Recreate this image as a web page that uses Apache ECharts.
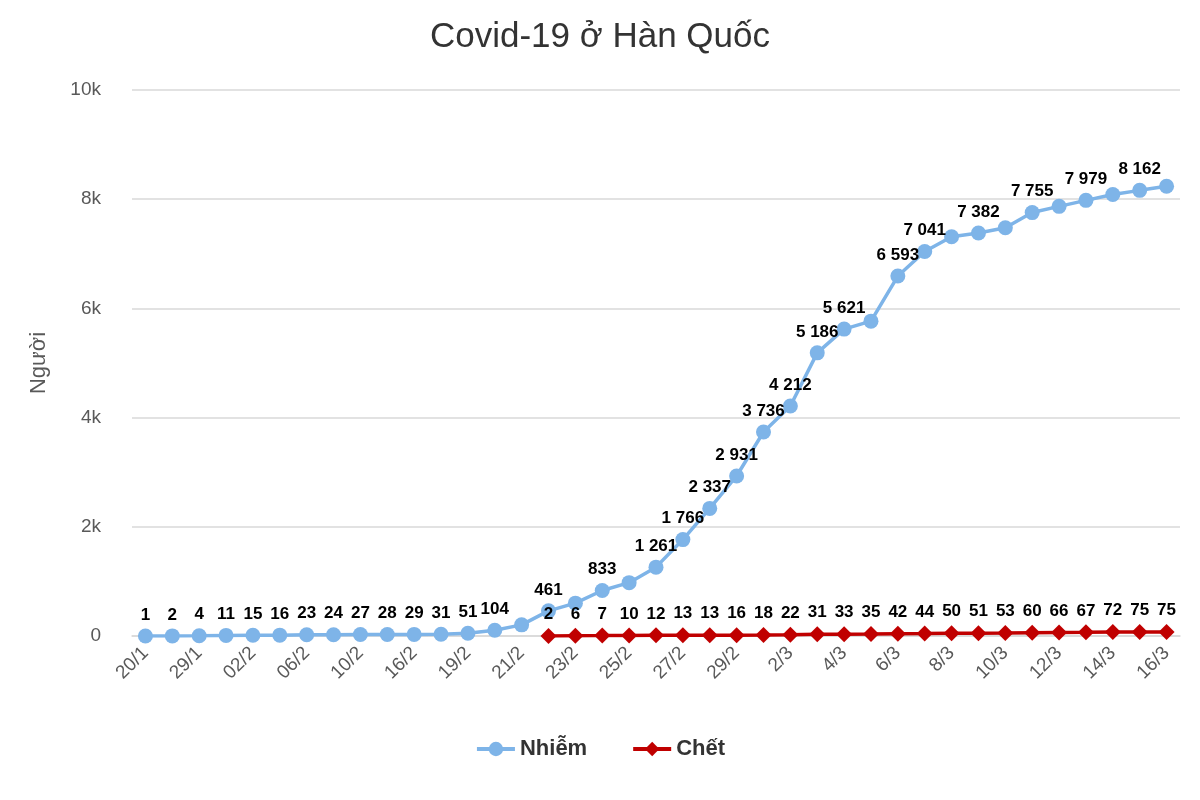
<!DOCTYPE html>
<html>
<head>
<meta charset="utf-8">
<script src="https://cdn.jsdelivr.net/npm/echarts@6/dist/echarts.min.js"></script>
<style>html,body{margin:0;padding:0;background:#fff;}#chart{width:1200px;height:800px;}</style>
</head>
<body>
<div id="chart"></div>
<script>
const categories = ['20/1','24/1','29/1','31/1','02/2','04/2','06/2','08/2','10/2','13/2',
  '16/2','18/2','19/2','20/2','21/2','22/2','23/2','24/2','25/2','26/2',
  '27/2','28/2','29/2','1/3','2/3','3/3','4/3','5/3','6/3','7/3',
  '8/3','9/3','10/3','11/3','12/3','13/3','14/3','15/3','16/3'];
const infected = [1,2,4,11,15,16,23,24,27,28,
  29,31,51,104,204,461,602,833,977,1261,
  1766,2337,2931,3736,4212,5186,5621,5766,6593,7041,
  7313,7382,7478,7755,7869,7979,8086,8162,8236];
const deaths = [null,null,null,null,null,null,null,null,null,null,
  null,null,null,null,null,2,6,7,10,12,
  13,13,16,18,22,31,33,35,42,44,
  50,51,53,60,66,67,72,75,75];
const unlabeledInfected = [14,16,18,27,30,32,34,36,38];
const yTicks = ['0','2k','4k','6k','8k','10k'];

function fmt(v){ return String(v).replace(/\B(?=(\d{3})+(?!\d))/g,' '); }

const FF = 'Liberation Sans, Arial, sans-serif';
const chart = echarts.init(document.getElementById('chart'), null, {renderer:'canvas'});
const labelStyle = {show:true, position:'top', distance:5, color:'#000', fontWeight:'bold', fontSize:17, fontFamily:FF};
chart.setOption({
  animation:false,
  title:{text:'Covid-19 ở Hàn Quốc', left:'center', top:15,
    textStyle:{fontSize:35, fontWeight:'normal', color:'#333333', fontFamily:FF}},
  legend:{bottom:35, left:'center', itemGap:44, itemWidth:38, itemHeight:18,
    lineStyle:{width:4},
    textStyle:{fontSize:22, fontWeight:'bold', color:'#333333', fontFamily:FF},
    data:['Nhiễm','Chết']},
  grid:{left:132, right:20, top:90, bottom:164},
  xAxis:{type:'category', data:categories, boundaryGap:true,
    axisLine:{lineStyle:{color:'#d9d9d9', width:1.5}}, axisTick:{show:false},
    axisLabel:{interval:1, rotate:45, color:'#595959', fontSize:19, margin:14, fontFamily:FF}},
  yAxis:{type:'value', min:0, max:10000, interval:2000,
    name:'Người', nameLocation:'middle', nameGap:82, nameRotate:90,
    nameTextStyle:{fontSize:22, color:'#595959', fontFamily:FF},
    axisLine:{show:false}, axisTick:{show:false},
    splitLine:{lineStyle:{color:'#d9d9d9', width:1.5}},
    axisLabel:{color:'#595959', fontSize:19, margin:31, fontFamily:FF,
      formatter:(v)=> yTicks[Math.round(v/2000)]}},
  series:[
    {name:'Nhiễm', type:'line', data:infected, symbol:'circle', symbolSize:15,
      lineStyle:{width:3.5, color:'#7eb4e8'}, itemStyle:{color:'#7eb4e8'},
      label:Object.assign({}, labelStyle, {formatter:(p)=> unlabeledInfected.includes(p.dataIndex)?'':fmt(p.value)}),
      z:2},
    {name:'Chết', type:'line', data:deaths, symbol:'diamond', symbolSize:16,
      lineStyle:{width:3.5, color:'#c00000'}, itemStyle:{color:'#c00000'},
      label:Object.assign({}, labelStyle, {formatter:(p)=> fmt(p.value)}),
      z:3}
  ]
});
</script>
</body>
</html>
